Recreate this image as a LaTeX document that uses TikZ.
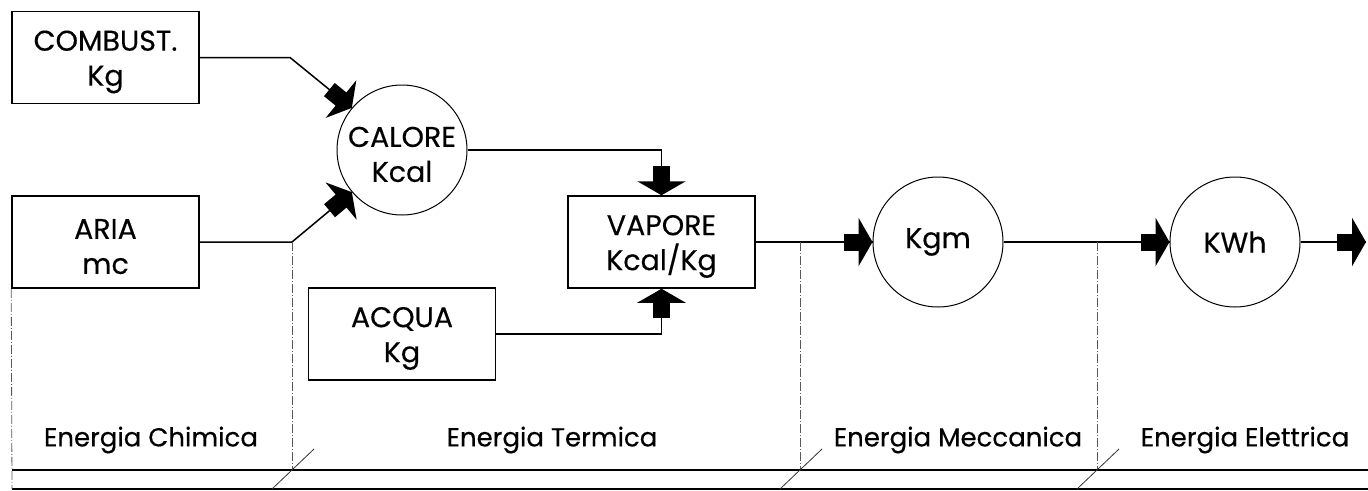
\documentclass[tikz,border=0pt]{standalone}
\usepackage{fontspec}
\setmainfont{Poppins}[BoldFont=Poppins,BoldFeatures={FakeBold=0.35}]
\usetikzlibrary{arrows.meta,calc}
\newcommand{\twol}[2]{\rule{0pt}{29pt}#1\\#2}
\begin{document}
\begin{tikzpicture}[x=1pt,y=-1pt,
  box/.style={draw,line width=1.5pt,minimum width=187pt,minimum height=92pt,inner sep=0pt,align=center,font=\fontsize{28.5}{35}\selectfont\bfseries},
  circ/.style={draw,circle,line width=1pt,minimum size=130pt,inner sep=0pt,align=center,font=\fontsize{28.5}{35}\selectfont\bfseries},
  conn/.style={line width=1.5pt},
  blk/.style={line width=17pt,-{Triangle[length=14pt,width=48pt]}},
  dd/.style={line width=0.8pt,black!65,dash pattern=on 9pt off 2pt on 1pt off 2pt},
  sl/.style={line width=0.8pt,black!80},
  lab/.style={font=\fontsize{26}{30}\selectfont\bfseries,inner sep=0pt}
]
\useasboundingbox (0,0) rectangle (1368,490);
% nodes
\node[box] (comb) at (105.5,57.5) {\twol{COMBUST.}{Kg}};
\node[box] (aria) at (105.5,242) {\twol{ARIA}{mc}};
\node[box] (acqua) at (402,334) {\twol{ACQUA}{Kg}};
\node[box] (vap) at (661.5,242) {\twol{VAPORE}{Kcal/Kg}};
\node[circ] (cal) at (402,150) {\twol{CALORE}{Kcal}};
\node[circ] (kgm) at (938,242) {Kgm};
\node[circ] (kwh) at (1235,242) {KWh};
\coordinate (c1) at (290,57.5);
\coordinate (c2) at (292,242);
\coordinate (out) at (1366,242);
% connectors
\draw[conn] (comb.east) -- (c1) -- (cal.140);
\draw[blk] ($(cal.140)!29pt!(c1)$) -- (cal.140);
\draw[conn] (aria.east) -- (c2) -- (cal.220);
\draw[blk] ($(cal.220)!29pt!(c2)$) -- (cal.220);
\draw[conn] (cal.east) -| (vap.north);
\draw[blk] ($(vap.north)+(0,-29)$) -- (vap.north);
\draw[conn] (acqua.east) -| (vap.south);
\draw[blk] ($(vap.south)+(0,29)$) -- (vap.south);
\draw[conn] (vap.east) -- (kgm.west);
\draw[blk] ($(kgm.west)+(-29,0)$) -- (kgm.west);
\draw[conn] (kgm.east) -- (kwh.west);
\draw[blk] ($(kwh.west)+(-29,0)$) -- (kwh.west);
\draw[conn] (kwh.east) -- (out);
\draw[blk] ($(out)+(-29,0)$) -- (out);
% bottom frame
\coordinate (b1) at (12,470);
\coordinate (b2) at (1368,470);
\coordinate (b3) at (12,489);
\coordinate (b4) at (1368,489);
\draw[line width=1.8pt] (b1) -- (b2);
\draw[line width=1.4pt] (b3) -- (b4);
% dash-dot separators
\draw[dd] (aria.south west) -- (b3);
\coordinate (d2) at (292,470);
\coordinate (d3) at (800,470);
\coordinate (d4) at (1097,470);
\coordinate (t3) at (800,242);
\coordinate (t4) at (1097,242);
\draw[dd] (c2) -- (d2);
\draw[dd] (t3) -- (d3);
\draw[dd] (t4) -- (d4);
% slashes
\foreach \x/\n in {292/a,800/b,1097/c}{
  \coordinate (s\n1) at (\x-20,489);
  \coordinate (s\n2) at (\x+22,449);
  \draw[sl] (s\n1) -- (s\n2);
}
% labels
\node[lab] (l1) at (151,440) {Energia Chimica};
\node[lab] (l2) at (552,440) {Energia Termica};
\node[lab] (l3) at (958,440) {Energia Meccanica};
\node[lab] (l4) at (1245,440) {Energia Elettrica};
\end{tikzpicture}
\end{document}
